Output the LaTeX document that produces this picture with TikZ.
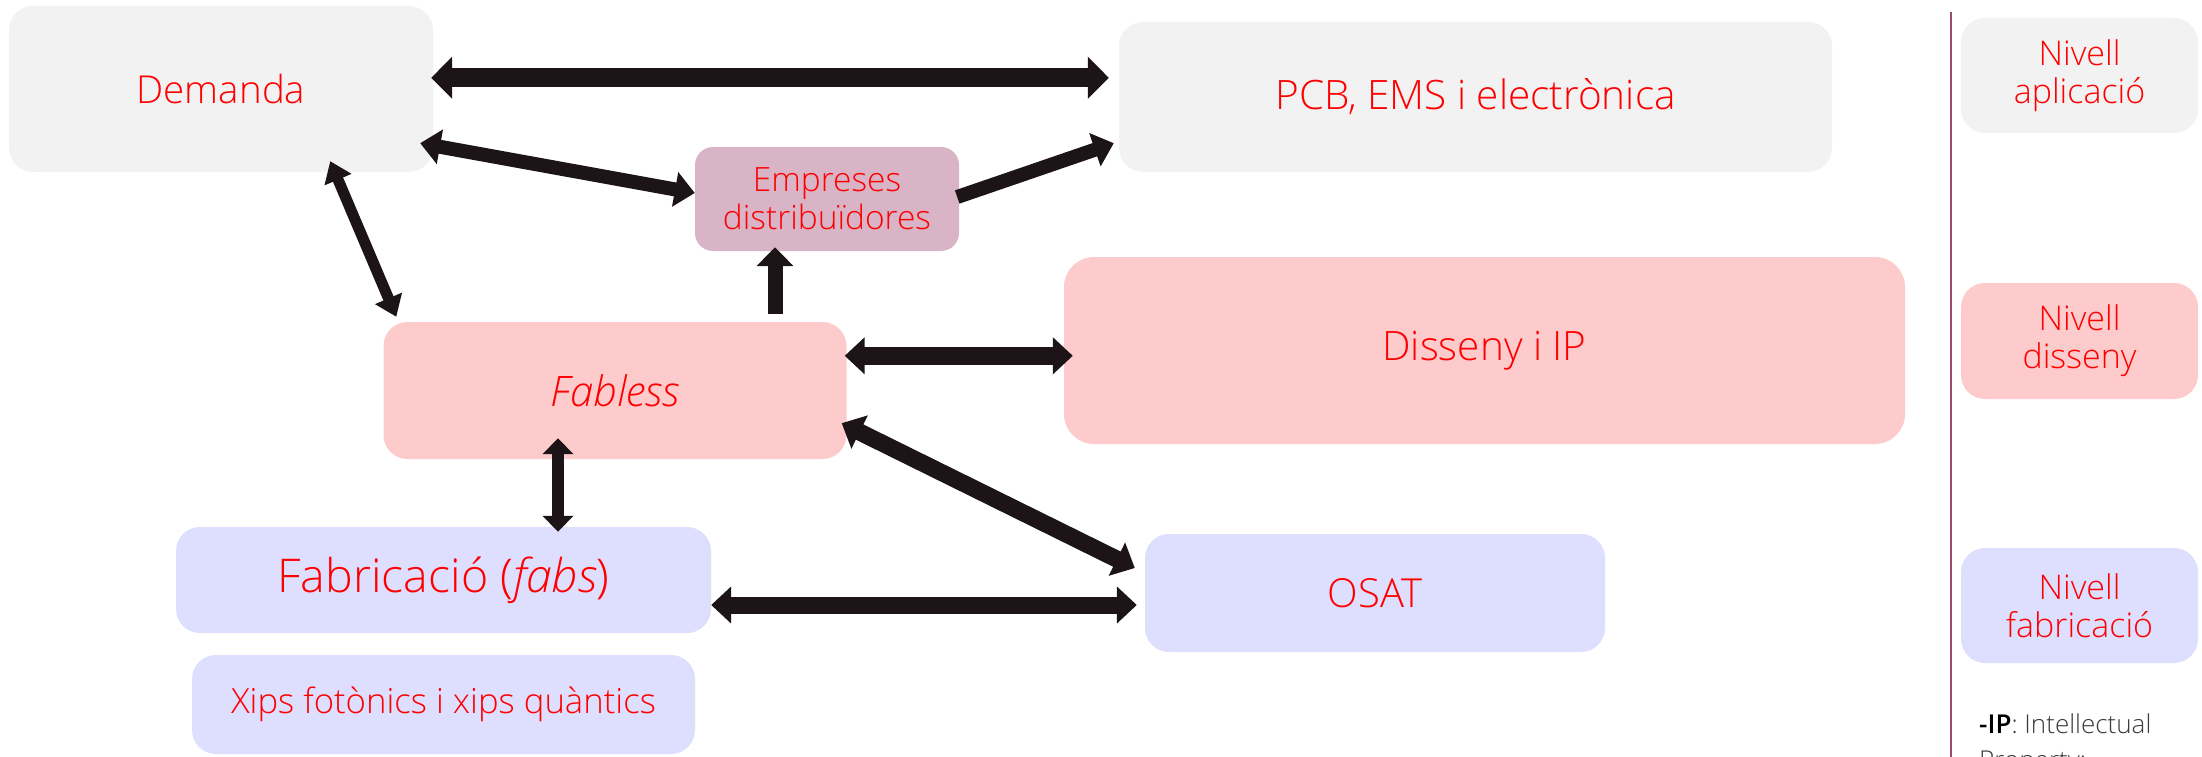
\documentclass[tikz,border=0pt]{standalone}
\usepackage{fontspec}
\IfFontExistsTF{Open Sans Light}{\setmainfont{Open Sans Light}}{%
  \IfFontExistsTF{Noto Sans Light}{\setmainfont{Noto Sans Light}}{\setmainfont{Liberation Sans}}}
\usetikzlibrary{arrows.meta,calc}
\definecolor{graybox}{HTML}{F2F2F2}
\definecolor{pinkbox}{HTML}{FDCBCB}
\definecolor{lavbox}{HTML}{DEDEFE}
\definecolor{mauvebox}{HTML}{D8B4C6}
\definecolor{arrowc}{HTML}{1C1416}
\definecolor{sepline}{HTML}{9C4A72}
\definecolor{notegray}{HTML}{3A3A3A}
\definecolor{lblred}{HTML}{FF0000}
\newcommand{\fsz}[1]{\fontsize{#1}{#1}\selectfont}
\begin{document}
\begin{tikzpicture}[x=1pt,y=-1pt,
  box/.style={rounded corners=24pt, inner sep=0pt, align=center, text=lblred},
  dbl/.style n args={3}{line width=#1, draw=arrowc, >={Triangle[width=#2,length=#3]}, <->},
  sgl/.style n args={3}{line width=#1, draw=arrowc, >={Triangle[width=#2,length=#3]}, ->},
  vline/.style={draw=sepline, line width=2.5pt}]
\useasboundingbox (0,0) rectangle (2202,757);
% main boxes
\node[box, fill=graybox, minimum width=424pt, minimum height=166pt, font=\fsz{38.5}] (dem) at (221,89) {Demanda};
\node[box, fill=graybox, minimum width=713pt, minimum height=150pt, font=\fsz{40.5}] (pcb) at (1475.5,97) {PCB, EMS i electrònica};
\node[box, fill=mauvebox, rounded corners=18pt, minimum width=264pt, minimum height=104pt, font=\fontsize{33.5}{38}\selectfont] (emp) at (827,199) {Empreses\\distribuïdores};
\node[box, fill=pinkbox, minimum width=463pt, minimum height=137pt, font=\fsz{42}] (fbl) at (615,390.5) {\itshape Fabless};
\node[box, fill=pinkbox, rounded corners=30pt, minimum width=841pt, minimum height=187pt, font=\fsz{40.5}] (dis) at (1484.5,350.5) {Disseny i IP};
\node[box, fill=lavbox, minimum width=535pt, minimum height=106pt, font=\fsz{46.5}] (fabr) at (443.5,580) {Fabricació (\textit{fabs})};
\node[box, fill=lavbox, minimum width=503pt, minimum height=99pt, font=\fsz{34.7}] (xips) at (443.5,704.5) {Xips fotònics i xips quàntics};
\node[box, fill=lavbox, minimum width=460pt, minimum height=118pt, font=\fsz{40}] (osat) at (1375,593) {OSAT};
% legend
\node[box, fill=graybox, minimum width=237pt, minimum height=115pt, font=\fontsize{34}{38}\selectfont] (na) at (2079.5,75.5) {Nivell\\aplicació};
\node[box, fill=pinkbox, minimum width=237pt, minimum height=116pt, font=\fontsize{34}{38}\selectfont] (nd) at (2079.5,341) {Nivell\\disseny};
\node[box, fill=lavbox, minimum width=237pt, minimum height=115pt, font=\fontsize{34}{38}\selectfont] (nf) at (2079.5,605.5) {Nivell\\fabricació};
\coordinate (septop) at (1951,12);
\coordinate (sepbot) at (1951,757);
\draw[vline] (septop) -- (sepbot);
\node[anchor=base west, inner sep=0pt, align=left, text=notegray, font=\fontsize{26}{36}\selectfont] (ipnote) at (1979,769) {{\bfseries\color{black}-IP}: Intellectual\\Property:};
% connectors
\draw[dbl={19pt}{41pt}{21pt}] ($(dem.north east)+(-2,72)$) -- ($(pcb.north west)+(-10,56)$);
\draw[dbl={14pt}{34pt}{20pt}] ($(dem.south east)+(-13,-29)$) -- ($(emp.west)+(0,-6)$);
\draw[sgl={14pt}{34pt}{20pt}] ($(emp.east)+(-2,-2)$) -- ($(pcb.south west)+(-5,-29)$);
\draw[dbl={11pt}{28pt}{20pt}] ($(dem.south east)+(-103,-11)$) -- ($(fbl.north west)+(13,-5)$);
\draw[sgl={15pt}{36pt}{19pt}] ($(fbl.north)+(160,-8)$) -- ($(emp.south)+(-52,-4)$);
\draw[dbl={18pt}{36pt}{20pt}] ($(fbl.north east)+(-2,34)$) -- ($(dis.north west)+(9,99)$);
\draw[dbl={12pt}{30pt}{16pt}] ($(fbl.south)+(-57,-21)$) -- ($(fabr.north)+(114.5,5)$);
\draw[dbl={17pt}{36pt}{20pt}] ($(fbl.south east)+(-5,-36)$) -- ($(osat.west)+(-10,-25)$);
\draw[dbl={17pt}{36pt}{20pt}] ($(fabr.east)+(0,25)$) -- ($(osat.west)+(-8,12)$);
\end{tikzpicture}
\end{document}
